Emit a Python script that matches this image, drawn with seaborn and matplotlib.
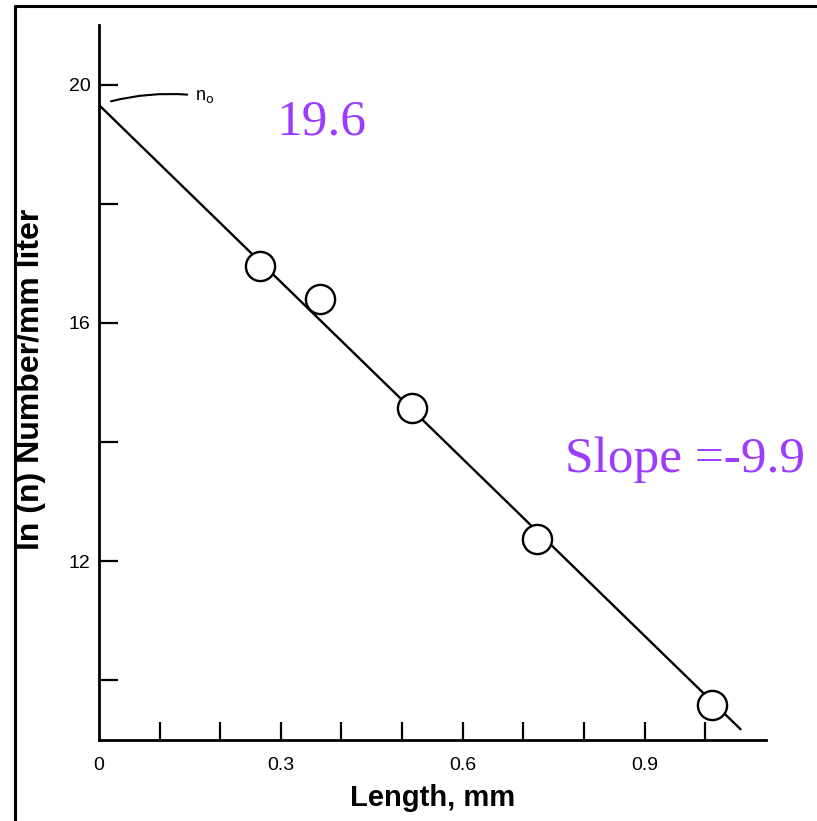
import numpy as np
import pandas as pd
import matplotlib
matplotlib.use("Agg")
import matplotlib.pyplot as plt
from matplotlib.lines import Line2D
import seaborn as sns

# dados
length_mm = [0.265, 0.364, 0.517, 0.723, 1.011]
ln_n = [16.95, 16.41, 14.58, 12.38, 9.58]

fit_x = [0.0, 1.058]
fit_y = [19.66, 9.18]

x_ticks = [0.1, 0.2, 0.3, 0.4, 0.5, 0.6, 0.7, 0.8, 0.9, 1.0]
x_labels = ["", "", "0.3", "", "", "0.6", "", "", "0.9", ""]
y_ticks = [10, 12, 14, 16, 18, 20]
y_labels = ["", "12", "", "16", "", "20"]

intercept_text = "19.6"
slope_text = "Slope =-9.9"
purple = "#9B3CFF"

sns.set_style("ticks", {"axes.edgecolor": "black", "text.color": "black",
                        "xtick.color": "black", "ytick.color": "black",
                        "axes.labelcolor": "black"})
plt.rcParams["font.family"] = ["Liberation Sans", "DejaVu Sans"]

pts = pd.DataFrame({"length": length_mm, "ln_n": ln_n})
fit = pd.DataFrame({"length": fit_x, "ln_n": fit_y})

fig = plt.figure(figsize=(8.17, 8.21), dpi=100)
ax = fig.add_axes([0.121, 0.0987, 0.8166, 0.8708])

sns.lineplot(data=fit, x="length", y="ln_n", ax=ax, color="black", linewidth=1.7, zorder=2)
sns.scatterplot(data=pts, x="length", y="ln_n", ax=ax, s=21 ** 2, marker="o",
                facecolor="white", edgecolor="black", linewidth=1.7, zorder=3)

ax.set_xlim(0, 1.1)
ax.set_ylim(9, 21)
ax.set_xticks(x_ticks)
ax.set_xticklabels(x_labels)
ax.set_yticks(y_ticks)
ax.set_yticklabels(y_labels)
ax.tick_params(axis="both", direction="in", width=1.6, labelsize=14, color="black",
               labelcolor="black")
ax.tick_params(axis="y", length=14, pad=6)
ax.tick_params(axis="x", length=13, pad=12)
# rótulo "0" na origem
ax.text(0, -0.024, "0", transform=ax.get_xaxis_transform(), ha="center", va="top", fontsize=14)

for side in ["top", "right"]:
    ax.spines[side].set_visible(False)
for side in ["left", "bottom"]:
    ax.spines[side].set_linewidth(2.0)

ax.set_xlabel("Length, mm", fontsize=21, fontweight="bold")
ax.set_ylabel("ln (n) Number/mm liter", fontsize=23, fontweight="bold")
ax.xaxis.set_label_coords(0.5, -0.062)
ax.yaxis.set_label_coords(-0.079, 0.505)

# anotação n0
ax.annotate(r"n$_\mathrm{o}$", xy=(0.02, 19.72), xytext=(0.158, 19.8), fontsize=13,
            va="center", ha="left",
            arrowprops=dict(arrowstyle="-", color="black", lw=1.5,
                            connectionstyle="arc3,rad=0.1", shrinkA=3, shrinkB=0))

ax.text(0.293, 19.16, intercept_text, color=purple, fontsize=37,
        family=["Liberation Serif", "DejaVu Serif"], va="baseline", ha="left")
ax.text(0.768, 13.5, slope_text, color=purple, fontsize=37,
        family=["Liberation Serif", "DejaVu Serif"], va="baseline", ha="left")

# moldura da imagem digitalizada
fig.add_artist(Line2D([0.018, 0.018], [0, 0.993], color="black", lw=2.2, transform=fig.transFigure))
fig.add_artist(Line2D([0.018, 1], [0.993, 0.993], color="black", lw=2.2, transform=fig.transFigure))

fig.savefig("out.png", dpi=100)
